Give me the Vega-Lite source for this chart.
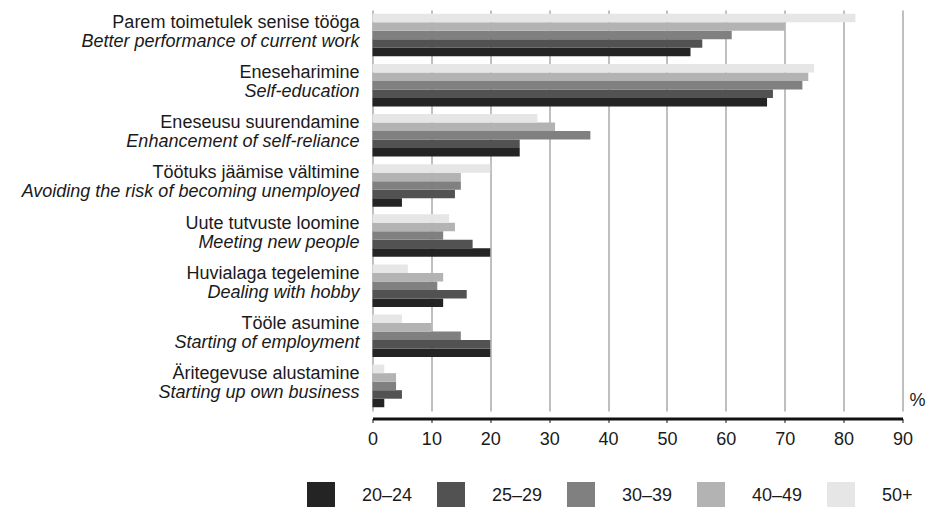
{
  "$schema": "https://vega.github.io/schema/vega-lite/v6.json",
  "width": 530,
  "height": 401,
  "autosize": {"type": "none"},
  "padding": {"left": 372.5, "top": 10, "right": 26.5, "bottom": 96},
  "background": "white",
  "config": {"font": "Liberation Sans", "view": {"stroke": null}},
  "datasets": {
    "bars": [
      {"cat": "Parem toimetulek senise tööga", "age": "20–24", "pct": 54},
      {"cat": "Parem toimetulek senise tööga", "age": "25–29", "pct": 56},
      {"cat": "Parem toimetulek senise tööga", "age": "30–39", "pct": 61},
      {"cat": "Parem toimetulek senise tööga", "age": "40–49", "pct": 70},
      {"cat": "Parem toimetulek senise tööga", "age": "50+", "pct": 82},
      {"cat": "Eneseharimine", "age": "20–24", "pct": 67},
      {"cat": "Eneseharimine", "age": "25–29", "pct": 68},
      {"cat": "Eneseharimine", "age": "30–39", "pct": 73},
      {"cat": "Eneseharimine", "age": "40–49", "pct": 74},
      {"cat": "Eneseharimine", "age": "50+", "pct": 75},
      {"cat": "Eneseusu suurendamine", "age": "20–24", "pct": 25},
      {"cat": "Eneseusu suurendamine", "age": "25–29", "pct": 25},
      {"cat": "Eneseusu suurendamine", "age": "30–39", "pct": 37},
      {"cat": "Eneseusu suurendamine", "age": "40–49", "pct": 31},
      {"cat": "Eneseusu suurendamine", "age": "50+", "pct": 28},
      {"cat": "Töötuks jäämise vältimine", "age": "20–24", "pct": 5},
      {"cat": "Töötuks jäämise vältimine", "age": "25–29", "pct": 14},
      {"cat": "Töötuks jäämise vältimine", "age": "30–39", "pct": 15},
      {"cat": "Töötuks jäämise vältimine", "age": "40–49", "pct": 15},
      {"cat": "Töötuks jäämise vältimine", "age": "50+", "pct": 20},
      {"cat": "Uute tutvuste loomine", "age": "20–24", "pct": 20},
      {"cat": "Uute tutvuste loomine", "age": "25–29", "pct": 17},
      {"cat": "Uute tutvuste loomine", "age": "30–39", "pct": 12},
      {"cat": "Uute tutvuste loomine", "age": "40–49", "pct": 14},
      {"cat": "Uute tutvuste loomine", "age": "50+", "pct": 13},
      {"cat": "Huvialaga tegelemine", "age": "20–24", "pct": 12},
      {"cat": "Huvialaga tegelemine", "age": "25–29", "pct": 16},
      {"cat": "Huvialaga tegelemine", "age": "30–39", "pct": 11},
      {"cat": "Huvialaga tegelemine", "age": "40–49", "pct": 12},
      {"cat": "Huvialaga tegelemine", "age": "50+", "pct": 6},
      {"cat": "Tööle asumine", "age": "20–24", "pct": 20},
      {"cat": "Tööle asumine", "age": "25–29", "pct": 20},
      {"cat": "Tööle asumine", "age": "30–39", "pct": 15},
      {"cat": "Tööle asumine", "age": "40–49", "pct": 10},
      {"cat": "Tööle asumine", "age": "50+", "pct": 5},
      {"cat": "Äritegevuse alustamine", "age": "20–24", "pct": 2},
      {"cat": "Äritegevuse alustamine", "age": "25–29", "pct": 5},
      {"cat": "Äritegevuse alustamine", "age": "30–39", "pct": 4},
      {"cat": "Äritegevuse alustamine", "age": "40–49", "pct": 4},
      {"cat": "Äritegevuse alustamine", "age": "50+", "pct": 2}
    ],
    "cats": [
      {"cat": "Parem toimetulek senise tööga", "eng": "Better performance of current work"},
      {"cat": "Eneseharimine", "eng": "Self-education"},
      {"cat": "Eneseusu suurendamine", "eng": "Enhancement of self-reliance"},
      {"cat": "Töötuks jäämise vältimine", "eng": "Avoiding the risk of becoming unemployed"},
      {"cat": "Uute tutvuste loomine", "eng": "Meeting new people"},
      {"cat": "Huvialaga tegelemine", "eng": "Dealing with hobby"},
      {"cat": "Tööle asumine", "eng": "Starting of employment"},
      {"cat": "Äritegevuse alustamine", "eng": "Starting up own business"}
    ]
  },
  "layer": [
    {
      "data": {"name": "bars"},
      "mark": {"type": "bar"},
      "encoding": {
        "y": {
          "field": "cat",
          "type": "nominal",
          "scale": {
            "domain": ["Parem toimetulek senise tööga", "Eneseharimine", "Eneseusu suurendamine", "Töötuks jäämise vältimine", "Uute tutvuste loomine", "Huvialaga tegelemine", "Tööle asumine", "Äritegevuse alustamine"],
            "paddingInner": 0.15,
            "paddingOuter": 0.075
          },
          "axis": null
        },
        "yOffset": {
          "field": "age",
          "type": "nominal",
          "scale": {"domain": ["50+", "40–49", "30–39", "25–29", "20–24"], "paddingInner": 0, "paddingOuter": 0}
        },
        "x": {
          "field": "pct",
          "type": "quantitative",
          "scale": {"domain": [0, 90], "nice": false},
          "axis": {
            "values": [0, 10, 20, 30, 40, 50, 60, 70, 80, 90],
            "grid": true,
            "gridColor": "#808080",
            "gridWidth": 1,
            "domainColor": "#111111",
            "domainWidth": 3,
            "offset": 7.5,
            "tickColor": "#111111",
            "tickSize": 4,
            "labelFontSize": 18,
            "labelColor": "#1a1a1a",
            "labelPadding": 8,
            "labelFlush": false,
            "title": "%",
            "titleFontSize": 18,
            "titleFontWeight": "normal",
            "titleColor": "#1a1a1a",
            "titleX": 544.5,
            "titleY": -18,
            "titleAlign": "center",
            "titleBaseline": "middle"
          }
        },
        "color": {
          "field": "age",
          "type": "nominal",
          "scale": {
            "domain": ["20–24", "25–29", "30–39", "40–49", "50+"],
            "range": ["#242424", "#525252", "#808080", "#b3b3b3", "#e6e6e6"]
          },
          "legend": {
            "orient": "none",
            "legendX": -65.5,
            "legendY": 472,
            "direction": "horizontal",
            "title": null,
            "symbolType": "square",
            "symbolSize": 784,
            "symbolStrokeWidth": 0,
            "symbolOpacity": 1,
            "labelFontSize": 18,
            "labelColor": "#1a1a1a",
            "labelOffset": 27,
            "columnPadding": 24
          }
        }
      }
    },
    {
      "data": {"name": "cats"},
      "mark": {"type": "text", "align": "right", "baseline": "middle", "dx": -13, "dy": -12, "fontSize": 18, "color": "#1a1a1a"},
      "encoding": {
        "y": {"field": "cat", "type": "nominal"},
        "x": {"datum": 0, "type": "quantitative"},
        "text": {"field": "cat"}
      }
    },
    {
      "data": {"name": "cats"},
      "mark": {"type": "text", "align": "right", "baseline": "middle", "dx": -13, "dy": 7, "fontSize": 18, "fontStyle": "italic", "color": "#1a1a1a"},
      "encoding": {
        "y": {"field": "cat", "type": "nominal"},
        "x": {"datum": 0, "type": "quantitative"},
        "text": {"field": "eng"}
      }
    }
  ]
}
